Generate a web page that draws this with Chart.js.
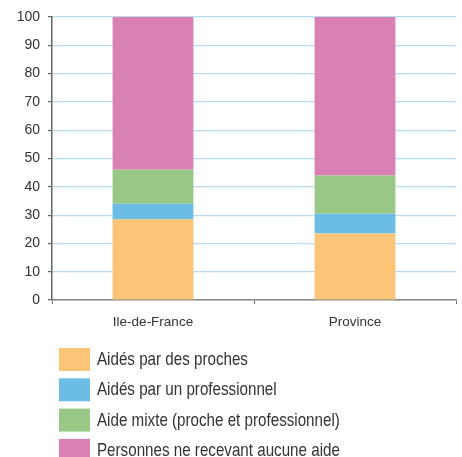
<!DOCTYPE html>
<html>
<head>
<meta charset="utf-8">
<script src="https://cdn.jsdelivr.net/npm/chart.js@4/dist/chart.umd.min.js"></script>
<style>
  html, body { margin: 0; padding: 0; background: #fff; }
  #wrap { width: 462px; height: 457px; position: relative; }
</style>
</head>
<body>
<div id="wrap"><canvas id="chart"></canvas></div>
<script>
// Répartition des personnes selon le type d'aide reçue (%)
const regions = ['Ile-de-France', 'Province'];
const aidesProches = [28.5, 23.5];
const aidesPro = [5.5, 7];
const aideMixte = [12, 13.5];
const aucuneAide = [54, 56];
const yTicks = [0, 10, 20, 30, 40, 50, 60, 70, 80, 90, 100];

const FONT = "'Liberation Sans', Arial, Helvetica, sans-serif";
const TEXT = '#333333';

// legend drawn as a vertical list under the plot, text squeezed to a narrow face
const listLegend = {
    id: 'listLegend',
    afterDraw(chart) {
        const ctx = chart.ctx;
        ctx.save();
        ctx.font = '18.5px ' + FONT;
        ctx.textBaseline = 'middle';
        chart.data.datasets.forEach((ds, i) => {
            const top = 348 + i * 30.3;
            ctx.fillStyle = ds.backgroundColor;
            ctx.fillRect(59, top, 31, 23);
            ctx.save();
            ctx.translate(97, top + 12);
            ctx.scale(0.82, 1);
            ctx.fillStyle = TEXT;
            ctx.fillText(ds.label, 0, 0);
            ctx.restore();
        });
        ctx.restore();
    }
};

new Chart(document.getElementById('chart'), {
    type: 'bar',
    data: {
        labels: regions,
        datasets: [
            { label: 'Aidés par des proches', data: aidesProches, backgroundColor: '#fbc477' },
            { label: 'Aidés par un professionnel', data: aidesPro, backgroundColor: '#6bbde5' },
            { label: 'Aide mixte (proche et professionnel)', data: aideMixte, backgroundColor: '#99c886' },
            { label: 'Personnes ne recevant aucune aide', data: aucuneAide, backgroundColor: '#d981b4' }
        ]
    },
    options: {
        responsive: true,
        maintainAspectRatio: false,
        animation: false,
        layout: { padding: { top: 17, right: 6, bottom: 117, left: 0 } },
        datasets: { bar: { categoryPercentage: 1, barPercentage: 0.4 } },
        plugins: {
            legend: { display: false },
            tooltip: { enabled: false }
        },
        scales: {
            x: {
                stacked: true,
                afterFit: s => { s.height = 40; },
                grid: {
                    drawOnChartArea: false,
                    drawTicks: true,
                    tickLength: 4,
                    tickColor: '#777'
                },
                border: { color: '#888', width: 1.5 },
                ticks: { color: TEXT, font: { family: FONT, size: 13.5 }, padding: 10 }
            },
            y: {
                stacked: true,
                min: 0,
                max: 100,
                afterFit: s => { s.width = 52; },
                afterBuildTicks: s => { s.ticks = yTicks.map(v => ({ value: v })); },
                grid: { color: '#b8dcef', lineWidth: 1.2, tickLength: 4, tickColor: '#666' },
                border: { color: '#666', width: 1.5 },
                ticks: { color: TEXT, font: { family: FONT, size: 14 }, padding: 8 }
            }
        }
    },
    plugins: [listLegend]
});
</script>
</body>
</html>
